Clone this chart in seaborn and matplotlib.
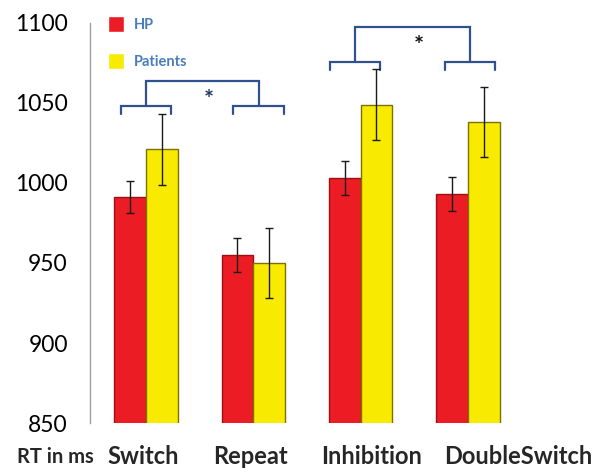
import matplotlib
matplotlib.use("Agg")
import matplotlib.pyplot as plt
import matplotlib.transforms as mtransforms
import seaborn as sns
import pandas as pd

# chart values (RT in ms)
conditions = ["Switch", "Repeat", "Inhibition", "DoubleSwitch"]
groups = ["HP", "Patients"]
hp_rt = [991, 955, 1003, 993]
hp_err = [10, 10.5, 10.5, 10.5]
patients_rt = [1021, 950, 1049, 1038]
patients_err = [22, 22, 22, 22]
y_ticks = [850, 900, 950, 1000, 1050, 1100]

# significance brackets: pairs of conditions compared, low and high bracket heights
bracket_pairs = [(0, 1), (2, 3)]
bracket_centers = [0.0, 1.05, 1.95, 3.02]
bracket_low = [1048, 1075.5]
bracket_high = [1064, 1097.5]

df = pd.DataFrame({
    "condition": conditions * 2,
    "group": [groups[0]] * 4 + [groups[1]] * 4,
    "rt": hp_rt + patients_rt,
})
errs = {"HP": hp_err, "Patients": patients_err}

red = "#ec1c24"
yellow = "#f8ea00"
edges = {"HP": "#9c1016", "Patients": "#7c7200"}

sns.set_style("white")
plt.rcParams["font.family"] = ["Lato", "DejaVu Sans"]

fig = plt.figure(figsize=(6, 4.72), dpi=100)
ax = fig.add_axes([0.15, 0.1038, 0.7195, 0.8475])

sns.barplot(
    data=df, x="condition", y="rt", hue="group",
    palette={"HP": red, "Patients": yellow},
    saturation=1, width=0.59, errorbar=None, ax=ax,
)

# edges and error bars for each group
for cont, grp in zip(ax.containers, groups):
    xs = []
    for p in cont.patches:
        p.set_edgecolor(edges[grp])
        p.set_linewidth(1.0)
        xs.append(p.get_x() + p.get_width() / 2)
    vals = df[df.group == grp]["rt"].values
    ax.errorbar(xs, vals, yerr=errs[grp], fmt="none", ecolor="#1a1a1a",
                elinewidth=1.0, capsize=3, capthick=1.0, zorder=5)

ax.set_ylim(850, 1100)
ax.set_xlim(-0.52, 3.5)
ax.set_yticks(y_ticks)
ax.set_xlabel("")
ax.set_ylabel("")
sns.despine(ax=ax, bottom=True)
ax.spines["left"].set_color("#a0a0a0")
ax.spines["left"].set_linewidth(1.0)
ax.tick_params(axis="y", length=4, width=1, color="#a0a0a0", pad=12,
               labelsize=16.5, labelcolor="black")
ax.tick_params(axis="x", length=0, pad=16, labelsize=17)

# x labels were placed by hand in the original, shift them a bit
shifts = [-3, -3, 11, 50]
for lab, dx in zip(ax.get_xticklabels(), shifts):
    lab.set_fontweight("bold")
    lab.set_transform(lab.get_transform() +
                      mtransforms.ScaledTranslation(dx / 100, 0, fig.dpi_scale_trans))

fig.text(0.028, 1 - 457 / 472, "RT in ms", fontsize=14.5, fontweight="bold",
         va="center", ha="left")

# significance brackets
bcol = "#2f528f"
drop = 5
hw = 0.235
for k, (a, b) in enumerate(bracket_pairs):
    lo, hi = bracket_low[k], bracket_high[k]
    for c in (bracket_centers[a], bracket_centers[b]):
        ax.plot([c - hw, c - hw, c + hw, c + hw], [lo - drop, lo, lo, lo - drop],
                color=bcol, lw=1.6, solid_joinstyle="miter", clip_on=False)
    ca, cb = bracket_centers[a], bracket_centers[b]
    ax.plot([ca, ca, cb, cb], [lo, hi, hi, lo], color=bcol, lw=1.6,
            solid_joinstyle="miter", clip_on=False)
    ax.text((ca + cb) / 2 + 0.06, hi - 5, "*", ha="center", va="top",
            fontsize=17, fontweight="bold",
            color="#1f3864" if k == 0 else "#111111")

# legend in the top left, text in blue
handles, labels = ax.get_legend_handles_labels()
leg = ax.legend(handles, labels, loc="upper left", bbox_to_anchor=(0.158, 0.993),
                bbox_transform=fig.transFigure, frameon=False,
                handlelength=1.1, handleheight=1.3, handletextpad=0.7,
                labelspacing=1.45, labelcolor="#4a7ebb",
                prop={"weight": "bold", "size": 10.5})
for t in leg.get_texts():
    t.set_fontweight("bold")

fig.savefig("out.png", dpi=100)
